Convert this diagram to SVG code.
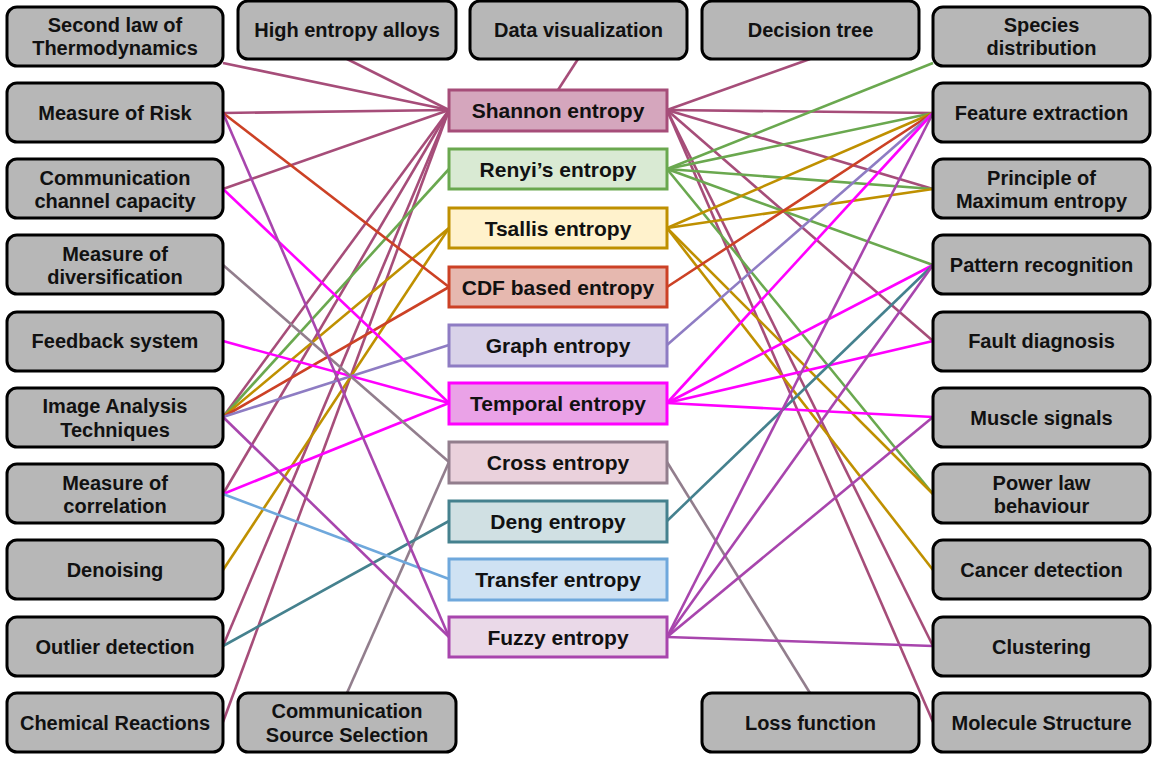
<svg xmlns="http://www.w3.org/2000/svg" width="1152" height="757" viewBox="0 0 1152 757">
<style>
.box{fill:#b7b7b7;stroke:#000;stroke-width:3}
.t{font-family:"Liberation Sans",Arial,sans-serif;font-weight:bold;font-size:20px;fill:#111;text-anchor:middle}
.ct{font-family:"Liberation Sans",Arial,sans-serif;font-weight:bold;font-size:21px;fill:#111;text-anchor:middle}
.cb{stroke-width:3}
#connectors line{stroke-width:2.6;fill:none}
.s{stroke:#a64d79}.g{stroke:#6aa84f}.y{stroke:#bf9000}.r{stroke:#cc4125}.v{stroke:#8e7cc3}
.m{stroke:#ff00ff}.c{stroke:#927e8d}.d{stroke:#45818e}.tr{stroke:#6fa8dc}.f{stroke:#a845ad}
</style>
<rect width="1152" height="757" fill="#fff"/>
<g id="connectors">
<line class="s" x1="223" y1="63" x2="449" y2="110"/>
<line class="s" x1="347" y1="59" x2="449" y2="110"/>
<line class="s" x1="578" y1="59" x2="558" y2="90"/>
<line class="s" x1="810" y1="59" x2="667" y2="110"/>
<line class="s" x1="223" y1="113" x2="449" y2="110"/>
<line class="s" x1="223" y1="189" x2="449" y2="110"/>
<line class="s" x1="223" y1="417" x2="449" y2="110"/>
<line class="s" x1="223" y1="494" x2="449" y2="110"/>
<line class="s" x1="223" y1="646" x2="449" y2="110"/>
<line class="s" x1="223" y1="722" x2="449" y2="110"/>
<line class="s" x1="667" y1="110" x2="933" y2="113"/>
<line class="s" x1="667" y1="110" x2="933" y2="189"/>
<line class="s" x1="667" y1="110" x2="933" y2="341"/>
<line class="s" x1="667" y1="110" x2="933" y2="646"/>
<line class="s" x1="667" y1="110" x2="933" y2="722"/>
<line class="g" x1="223" y1="417" x2="449" y2="169"/>
<line class="g" x1="667" y1="169" x2="933" y2="63"/>
<line class="g" x1="667" y1="169" x2="933" y2="113"/>
<line class="g" x1="667" y1="169" x2="933" y2="189"/>
<line class="g" x1="667" y1="169" x2="933" y2="265"/>
<line class="g" x1="667" y1="169" x2="933" y2="494"/>
<line class="y" x1="223" y1="417" x2="449" y2="228"/>
<line class="y" x1="223" y1="570" x2="449" y2="228"/>
<line class="y" x1="667" y1="228" x2="933" y2="113"/>
<line class="y" x1="667" y1="228" x2="933" y2="189"/>
<line class="y" x1="667" y1="228" x2="933" y2="494"/>
<line class="y" x1="667" y1="228" x2="933" y2="570"/>
<line class="r" x1="223" y1="113" x2="449" y2="287"/>
<line class="r" x1="223" y1="417" x2="449" y2="287"/>
<line class="r" x1="667" y1="287" x2="933" y2="113"/>
<line class="v" x1="223" y1="417" x2="449" y2="345"/>
<line class="v" x1="667" y1="345" x2="933" y2="113"/>
<line class="m" x1="223" y1="189" x2="449" y2="403"/>
<line class="m" x1="223" y1="341" x2="449" y2="403"/>
<line class="m" x1="223" y1="494" x2="449" y2="403"/>
<line class="m" x1="667" y1="403" x2="933" y2="113"/>
<line class="m" x1="667" y1="403" x2="933" y2="265"/>
<line class="m" x1="667" y1="403" x2="933" y2="341"/>
<line class="m" x1="667" y1="403" x2="933" y2="417"/>
<line class="c" x1="223" y1="265" x2="449" y2="462"/>
<line class="c" x1="347" y1="693" x2="449" y2="462"/>
<line class="c" x1="667" y1="462" x2="810" y2="693"/>
<line class="d" x1="223" y1="646" x2="449" y2="521"/>
<line class="d" x1="667" y1="521" x2="933" y2="265"/>
<line class="tr" x1="223" y1="494" x2="449" y2="579"/>
<line class="f" x1="223" y1="113" x2="449" y2="637"/>
<line class="f" x1="223" y1="417" x2="449" y2="637"/>
<line class="f" x1="667" y1="637" x2="933" y2="113"/>
<line class="f" x1="667" y1="637" x2="933" y2="265"/>
<line class="f" x1="667" y1="637" x2="933" y2="417"/>
<line class="f" x1="667" y1="637" x2="933" y2="646"/>
</g>
<!-- left column -->
<g id="second-law"><rect class="box" x="7" y="7" width="216" height="59" rx="10"/><text class="t" x="115" y="32">Second law of</text><text class="t" x="115" y="55">Thermodynamics</text></g>
<g id="risk"><rect class="box" x="7" y="83" width="216" height="59" rx="10"/><text class="t" x="115" y="120">Measure of Risk</text></g>
<g id="comm-channel"><rect class="box" x="7" y="159" width="216" height="59" rx="10"/><text class="t" x="115" y="185">Communication</text><text class="t" x="115" y="208">channel capacity</text></g>
<g id="diversification"><rect class="box" x="7" y="235" width="216" height="59" rx="10"/><text class="t" x="115" y="261">Measure of</text><text class="t" x="115" y="284">diversification</text></g>
<g id="feedback"><rect class="box" x="7" y="312" width="216" height="59" rx="10"/><text class="t" x="115" y="348">Feedback system</text></g>
<g id="image-analysis"><rect class="box" x="7" y="388" width="216" height="59" rx="10"/><text class="t" x="115" y="413">Image Analysis</text><text class="t" x="115" y="437">Techniques</text></g>
<g id="correlation"><rect class="box" x="7" y="464" width="216" height="59" rx="10"/><text class="t" x="115" y="490">Measure of</text><text class="t" x="115" y="513">correlation</text></g>
<g id="denoising"><rect class="box" x="7" y="540" width="216" height="59" rx="10"/><text class="t" x="115" y="577">Denoising</text></g>
<g id="outlier"><rect class="box" x="7" y="617" width="216" height="59" rx="10"/><text class="t" x="115" y="654">Outlier detection</text></g>
<g id="chemical"><rect class="box" x="7" y="693" width="216" height="59" rx="10"/><text class="t" x="115" y="730">Chemical Reactions</text></g>
<!-- top / bottom -->
<g id="hea"><rect class="box" x="238" y="1" width="218" height="58" rx="10"/><text class="t" x="347" y="37">High entropy alloys</text></g>
<g id="data-vis"><rect class="box" x="470" y="1" width="217" height="58" rx="10"/><text class="t" x="578.5" y="37">Data visualization</text></g>
<g id="decision-tree"><rect class="box" x="702" y="1" width="217" height="58" rx="10"/><text class="t" x="810.5" y="37">Decision tree</text></g>
<g id="comm-source"><rect class="box" x="238" y="693" width="218" height="59" rx="10"/><text class="t" x="347" y="718">Communication</text><text class="t" x="347" y="742">Source Selection</text></g>
<g id="loss"><rect class="box" x="702" y="693" width="217" height="59" rx="10"/><text class="t" x="810.5" y="730">Loss function</text></g>
<!-- right column -->
<g id="species"><rect class="box" x="933" y="7" width="217" height="59" rx="10"/><text class="t" x="1041.5" y="32">Species</text><text class="t" x="1041.5" y="55">distribution</text></g>
<g id="feature"><rect class="box" x="933" y="83" width="217" height="59" rx="10"/><text class="t" x="1041.5" y="120">Feature extraction</text></g>
<g id="principle"><rect class="box" x="933" y="159" width="217" height="59" rx="10"/><text class="t" x="1041.5" y="185">Principle of</text><text class="t" x="1041.5" y="208">Maximum entropy</text></g>
<g id="pattern"><rect class="box" x="933" y="235" width="217" height="59" rx="10"/><text class="t" x="1041.5" y="272">Pattern recognition</text></g>
<g id="fault"><rect class="box" x="933" y="312" width="217" height="59" rx="10"/><text class="t" x="1041.5" y="348">Fault diagnosis</text></g>
<g id="muscle"><rect class="box" x="933" y="388" width="217" height="59" rx="10"/><text class="t" x="1041.5" y="425">Muscle signals</text></g>
<g id="power-law"><rect class="box" x="933" y="464" width="217" height="59" rx="10"/><text class="t" x="1041.5" y="490">Power law</text><text class="t" x="1041.5" y="513">behaviour</text></g>
<g id="cancer"><rect class="box" x="933" y="540" width="217" height="59" rx="10"/><text class="t" x="1041.5" y="577">Cancer detection</text></g>
<g id="clustering"><rect class="box" x="933" y="617" width="217" height="59" rx="10"/><text class="t" x="1041.5" y="654">Clustering</text></g>
<g id="molecule"><rect class="box" x="933" y="693" width="217" height="59" rx="10"/><text class="t" x="1041.5" y="730">Molecule Structure</text></g>
<!-- center -->
<g id="shannon"><rect class="cb" x="449" y="90" width="218" height="41" fill="#d5a6bd" stroke="#a64d79"/><text class="ct" x="558" y="118">Shannon entropy</text></g>
<g id="renyi"><rect class="cb" x="449" y="149" width="218" height="40" fill="#d9ead3" stroke="#6aa84f"/><text class="ct" x="558" y="176.5">Renyi’s entropy</text></g>
<g id="tsallis"><rect class="cb" x="449" y="208" width="218" height="40" fill="#fff2cc" stroke="#bf9000"/><text class="ct" x="558" y="235.5">Tsallis entropy</text></g>
<g id="cdf"><rect class="cb" x="449" y="267" width="218" height="40" fill="#e6b8af" stroke="#cc4125"/><text class="ct" x="558" y="294.5">CDF based entropy</text></g>
<g id="graph"><rect class="cb" x="449" y="325" width="218" height="41" fill="#d9d2e9" stroke="#8e7cc3"/><text class="ct" x="558" y="353">Graph entropy</text></g>
<g id="temporal"><rect class="cb" x="449" y="383" width="218" height="41" fill="#eaa2e7" stroke="#ff00ff"/><text class="ct" x="558" y="411">Temporal entropy</text></g>
<g id="cross"><rect class="cb" x="449" y="442" width="218" height="41" fill="#ead1dc" stroke="#927e8d"/><text class="ct" x="558" y="470">Cross entropy</text></g>
<g id="deng"><rect class="cb" x="449" y="501" width="218" height="41" fill="#d0e0e3" stroke="#45818e"/><text class="ct" x="558" y="529">Deng entropy</text></g>
<g id="transfer"><rect class="cb" x="449" y="559" width="218" height="41" fill="#cfe2f3" stroke="#6fa8dc"/><text class="ct" x="558" y="587">Transfer entropy</text></g>
<g id="fuzzy"><rect class="cb" x="449" y="617" width="218" height="40" fill="#ead9e8" stroke="#a845ad"/><text class="ct" x="558" y="644.5">Fuzzy entropy</text></g>
</svg>
